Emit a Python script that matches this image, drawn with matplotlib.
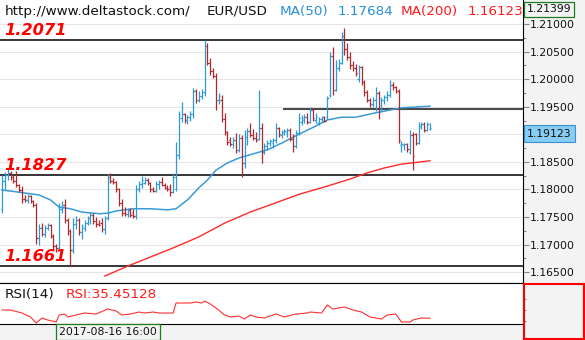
import numpy as np
import matplotlib
matplotlib.use('Agg')
import matplotlib.pyplot as plt
from matplotlib.collections import LineCollection
from matplotlib.patches import Rectangle
from matplotlib.ticker import MultipleLocator, FuncFormatter, NullFormatter


### Data: EUR/USD 4H bars

opens = [
    1.1765, 1.1815, 1.1826, 1.1830, 1.1822, 1.1816, 1.1808, 1.1799, 1.1783, 1.1781,
    1.1788, 1.1779, 1.1772, 1.1712, 1.1730, 1.1720, 1.1731, 1.1735, 1.1716, 1.1698,
    1.1693, 1.1765, 1.1772, 1.1745, 1.1724, 1.1690, 1.1738, 1.1745, 1.1722, 1.1730,
    1.1740, 1.1748, 1.1754, 1.1743, 1.1738, 1.1740, 1.1728, 1.1748, 1.1822, 1.1816,
    1.1813, 1.1800, 1.1776, 1.1758, 1.1755, 1.1762, 1.1758, 1.1752, 1.1800, 1.1810,
    1.1812, 1.1818, 1.1811, 1.1800, 1.1797, 1.1810, 1.1814, 1.1808, 1.1803, 1.1805,
    1.1795, 1.1800, 1.1862, 1.1930, 1.1936, 1.1926, 1.1932, 1.1936, 1.1978, 1.1962,
    1.1970, 1.1976, 1.2060, 1.2030, 1.2015, 1.2006, 1.1962, 1.1962, 1.1928, 1.1904,
    1.1890, 1.1882, 1.1890, 1.1872, 1.1893, 1.1848, 1.1896, 1.1906, 1.1898, 1.1894,
    1.1892, 1.1912, 1.1868, 1.1878, 1.1885, 1.1884, 1.1890, 1.1912, 1.1898, 1.1904,
    1.1902, 1.1908, 1.1892, 1.1878, 1.1902, 1.1922, 1.1926, 1.1932, 1.1922, 1.1944,
    1.1926, 1.1920, 1.1928, 1.1931, 1.1932, 1.1971, 1.2042, 1.1980, 1.2020, 1.2030,
    1.2078, 1.2055, 1.2040, 1.2025, 1.2020, 1.2000, 1.2022, 1.1995, 1.1976, 1.1962,
    1.1955, 1.1962, 1.1975, 1.1945, 1.1962, 1.1968, 1.1972, 1.1990, 1.1985, 1.1978,
    1.1880, 1.1880, 1.1882, 1.1868, 1.1898, 1.1900, 1.1885, 1.1915, 1.1918, 1.1908,
    1.1910,
]
highs = [
    1.1826, 1.1832, 1.1838, 1.1833, 1.1827, 1.1833, 1.1810, 1.1806, 1.1790, 1.1792,
    1.1790, 1.1781, 1.1776, 1.1738, 1.1740, 1.1736, 1.1739, 1.1737, 1.1720, 1.1701,
    1.1776, 1.1779, 1.1782, 1.1748, 1.1728, 1.1748, 1.1752, 1.1748, 1.1738, 1.1745,
    1.1752, 1.1760, 1.1758, 1.1750, 1.1745, 1.1748, 1.1752, 1.1828, 1.1830, 1.1820,
    1.1815, 1.1802, 1.1782, 1.1768, 1.1766, 1.1766, 1.1764, 1.1808, 1.1815, 1.1825,
    1.1822, 1.1820, 1.1814, 1.1804, 1.1815, 1.1818, 1.1822, 1.1812, 1.1808, 1.1810,
    1.1830, 1.1886, 1.1942, 1.1959, 1.1938, 1.1935, 1.1942, 1.1984, 1.1982, 1.1978,
    1.1982, 1.2071, 1.2066, 1.2038, 1.2020, 1.2011, 1.1975, 1.1971, 1.1939, 1.1906,
    1.1896, 1.1895, 1.1902, 1.1900, 1.1898, 1.1908, 1.1912, 1.1920, 1.1910, 1.1905,
    1.1980, 1.1921, 1.1884, 1.1890, 1.1892, 1.1893, 1.1921, 1.1914, 1.1908, 1.1910,
    1.1912, 1.1911, 1.1900, 1.1908, 1.1939, 1.1935, 1.1936, 1.1938, 1.1950, 1.1948,
    1.1938, 1.1932, 1.1934, 1.1934, 1.1970, 1.2050, 1.2058, 1.2035, 1.2036, 1.2085,
    1.2092, 1.2065, 1.2050, 1.2033, 1.2028, 1.2026, 1.2024, 1.1998, 1.1980, 1.1965,
    1.1968, 1.1985, 1.1978, 1.1968, 1.1972, 1.1978, 1.1998, 1.1995, 1.1988, 1.1982,
    1.1888, 1.1885, 1.1884, 1.1908, 1.1904, 1.1903, 1.1922, 1.1922, 1.1922, 1.1922,
    1.1920,
]
lows = [
    1.1757, 1.1800, 1.1818, 1.1818, 1.1812, 1.1804, 1.1795, 1.1775, 1.1777, 1.1775,
    1.1776, 1.1768, 1.1702, 1.1700, 1.1716, 1.1714, 1.1726, 1.1712, 1.1690, 1.1686,
    1.1690, 1.1758, 1.1740, 1.1718, 1.1661, 1.1685, 1.1728, 1.1718, 1.1710, 1.1725,
    1.1735, 1.1738, 1.1738, 1.1732, 1.1734, 1.1722, 1.1720, 1.1745, 1.1812, 1.1810,
    1.1795, 1.1770, 1.1752, 1.1752, 1.1750, 1.1750, 1.1748, 1.1746, 1.1795, 1.1802,
    1.1810, 1.1808, 1.1795, 1.1795, 1.1795, 1.1800, 1.1806, 1.1800, 1.1798, 1.1788,
    1.1793, 1.1798, 1.1856, 1.1922, 1.1920, 1.1918, 1.1925, 1.1930, 1.1956, 1.1958,
    1.1964, 1.1970, 1.2025, 1.2008, 1.2002, 1.1944, 1.1955, 1.1922, 1.1899, 1.1881,
    1.1878, 1.1876, 1.1866, 1.1868, 1.1823, 1.1839, 1.1880, 1.1895, 1.1890, 1.1886,
    1.1889, 1.1848, 1.1864, 1.1872, 1.1878, 1.1876, 1.1884, 1.1896, 1.1893, 1.1898,
    1.1896, 1.1888, 1.1868, 1.1875, 1.1899, 1.1916, 1.1920, 1.1918, 1.1920, 1.1925,
    1.1920, 1.1917, 1.1922, 1.1922, 1.1928, 1.1968, 1.1972, 1.1978, 1.2015, 1.2028,
    1.2044, 1.2035, 1.2018, 1.2015, 1.2005, 1.1995, 1.1990, 1.1970, 1.1958, 1.1950,
    1.1950, 1.1942, 1.1928, 1.1940, 1.1955, 1.1960, 1.1968, 1.1980, 1.1975, 1.1884,
    1.1868, 1.1872, 1.1868, 1.1865, 1.1836, 1.1880, 1.1882, 1.1910, 1.1905, 1.1906,
    1.1908,
]
closes = [
    1.1815, 1.1826, 1.1830, 1.1822, 1.1816, 1.1808, 1.1799, 1.1783, 1.1781, 1.1788,
    1.1779, 1.1772, 1.1712, 1.1730, 1.1720, 1.1731, 1.1735, 1.1716, 1.1698, 1.1693,
    1.1765, 1.1772, 1.1745, 1.1724, 1.1690, 1.1738, 1.1745, 1.1722, 1.1733, 1.1740,
    1.1748, 1.1754, 1.1743, 1.1738, 1.1736, 1.1728, 1.1748, 1.1822, 1.1816, 1.1813,
    1.1800, 1.1776, 1.1758, 1.1755, 1.1762, 1.1754, 1.1752, 1.1800, 1.1810, 1.1818,
    1.1818, 1.1811, 1.1800, 1.1797, 1.1810, 1.1814, 1.1808, 1.1803, 1.1801, 1.1795,
    1.1822, 1.1862, 1.1936, 1.1936, 1.1926, 1.1932, 1.1936, 1.1978, 1.1962, 1.1970,
    1.1976, 1.2060, 1.2030, 1.2015, 1.2006, 1.1962, 1.1970, 1.1928, 1.1904, 1.1886,
    1.1882, 1.1890, 1.1872, 1.1893, 1.1848, 1.1896, 1.1906, 1.1898, 1.1894, 1.1890,
    1.1912, 1.1868, 1.1878, 1.1885, 1.1888, 1.1890, 1.1912, 1.1900, 1.1904, 1.1906,
    1.1908, 1.1892, 1.1878, 1.1902, 1.1930, 1.1930, 1.1932, 1.1922, 1.1944, 1.1930,
    1.1932, 1.1928, 1.1931, 1.1925, 1.1965, 1.2042, 1.1980, 1.2020, 1.2030, 1.2078,
    1.2055, 1.2040, 1.2025, 1.2020, 1.2012, 1.2022, 1.1995, 1.1976, 1.1962, 1.1955,
    1.1962, 1.1975, 1.1945, 1.1962, 1.1968, 1.1972, 1.1990, 1.1985, 1.1978, 1.1890,
    1.1882, 1.1882, 1.1874, 1.1898, 1.1860, 1.1885, 1.1915, 1.1918, 1.1908, 1.1918,
    1.19123,
]

# moving averages (bar index -> value)
ma50_idx = [0, 6, 13, 17, 20, 24, 28, 34, 37, 40, 46, 52, 58, 61, 65, 69,
            72, 75, 79, 83, 87, 93, 98, 104, 110, 114, 119, 124, 131, 136, 140, 150]
ma50_val = [1.1799, 1.1795, 1.1790, 1.1781, 1.1768, 1.1765, 1.1759, 1.1756,
            1.1757, 1.1761, 1.1765, 1.1765, 1.1763, 1.1765, 1.1781, 1.1803,
            1.1817, 1.1835, 1.1848, 1.1857, 1.1863, 1.1872, 1.1884, 1.1900,
            1.1915, 1.1926, 1.1931, 1.1931, 1.1939, 1.1944, 1.1948, 1.1951]
ma200_idx = [36, 45, 60, 69, 78, 87, 95, 104, 114, 122, 128, 134, 140, 145, 150]
ma200_val = [1.1643, 1.1663, 1.1694, 1.1714, 1.1739, 1.1759, 1.1774, 1.1791,
             1.1806, 1.1819, 1.1830, 1.1839, 1.1846, 1.1849, 1.1852]

# RSI(14)
rsi_idx = [0, 3, 7, 10, 12, 14, 16, 19, 20, 22, 23, 26, 29, 33, 37, 40, 42, 45,
           48, 50, 53, 55, 60, 61, 63, 66, 68, 70, 71, 73, 75, 78, 80, 83, 85,
           87, 89, 92, 96, 99, 103, 107, 108, 112, 114, 116, 120, 123, 126, 129,
           131, 133, 135, 138, 140, 143, 144, 147, 150]
rsi_val = [50.6, 50.6, 45.1, 37.8, 26.8, 36.0, 32.3, 28.7, 41.5, 43.3, 37.8,
           41.5, 45.1, 43.3, 52.4, 48.8, 41.5, 43.3, 46.9, 45.1, 46.9, 45.1,
           45.1, 63.4, 63.4, 63.4, 65.2, 63.4, 67.1, 61.6, 54.3, 41.5, 37.8,
           39.6, 34.1, 41.5, 37.8, 36.0, 43.3, 37.8, 43.3, 45.1, 46.9, 45.1,
           59.8, 52.4, 56.1, 50.6, 46.9, 37.8, 36.0, 34.1, 41.5, 43.3, 28.7,
           28.7, 32.3, 36.0, 35.45128]

# support / resistance levels
levels = [1.2071, 1.1827, 1.1661]
level_labels = ['1.2071', '1.1827', '1.1661']
trend_level = 1.1945
trend_start = 98.5

price_top = 1.21399
cursor_time = '2017-08-16 16:00'
ma50_cursor = '1.17684'
ma200_cursor = '1.16123'


### Style

W, H = 585, 340
up_color = '#2b9ad7'
down_color = '#b0282b'
panel_bg = '#f3f3f3'
font = 'DejaVu Sans'


def fx(x):
    return x / W


def fy(y):
    return 1 - y / H


def price_label(v, pos):
    # the last-price box sits on top of the nearest scale label
    if abs(v - closes[-1]) < 0.0025:
        return ''
    return f'{v:.5f}'


fig = plt.figure(figsize=(W / 100, H / 100), dpi=100, facecolor=panel_bg)
ax = fig.add_axes([0, fy(283), fx(523), 283 / H])
ax_rsi = fig.add_axes([0, fy(324), fx(523), 41 / H])

# price panel
n = len(closes)
idx = np.arange(n)
o, h, l, c = map(np.asarray, (opens, highs, lows, closes))
colors = np.where(c >= o, up_color, down_color)

segs, segc = [], []
for i in idx:
    segs += [[(i, l[i]), (i, h[i])], [(i - 0.5, o[i]), (i, o[i])], [(i, c[i]), (i + 0.5, c[i])]]
    segc += [colors[i]] * 3
ax.add_collection(LineCollection(segs, colors=segc, linewidths=0.9, zorder=4))

ax.plot(ma50_idx, ma50_val, color='#3a9bd9', lw=1.1, zorder=3)
ax.plot(ma200_idx, ma200_val, color='#ff2a2a', lw=1.0, zorder=3)

for lv, lbl in zip(levels, level_labels):
    ax.axhline(lv, color='black', lw=1.1, zorder=2)
    ax.annotate(lbl, xy=(0, lv), xycoords=('axes fraction', 'data'),
                xytext=(4, 5), textcoords='offset pixels', va='baseline', ha='left',
                color='#ff0000', fontsize=11.7, fontweight='bold', fontstyle='italic',
                family=font, zorder=6)
ax.hlines(trend_level, trend_start, 182.6, color='#4a4a4a', lw=1.5, zorder=2)

ax.set_xlim(-0.7, 182.6)
ax.set_ylim(1.16304, 1.21435)
ax.yaxis.set_major_locator(MultipleLocator(0.005))
ax.yaxis.set_minor_locator(MultipleLocator(0.0025))
ax.yaxis.set_major_formatter(FuncFormatter(price_label))
ax.yaxis.tick_right()
ax.tick_params(axis='y', which='major', length=4, width=0.8, color='#888888',
               labelsize=7.8, pad=1.0, labelcolor='#111111')
ax.tick_params(axis='y', which='minor', length=2.2, width=0.8, color='#888888')
ax.set_xticks([])
ax.grid(axis='y', which='major', color='#e6e6e6', lw=0.8, zorder=0)
for side in ['top', 'left']:
    ax.spines[side].set_visible(False)
ax.spines['right'].set_color('black')
ax.spines['bottom'].set_color('black')
ax.set_facecolor('white')

# last price marker
ax.annotate(f'{closes[-1]:.5f}', xy=(1, closes[-1]), xycoords=('axes fraction', 'data'),
            xytext=(4, -6), textcoords='offset pixels', va='center', ha='left',
            fontsize=7.8, color='#111111', family=font, annotation_clip=False, zorder=10,
            bbox=dict(boxstyle='square,pad=0.3', fc='#87cdf5', ec='#3a8fd0', lw=0.8))

# RSI panel
ax_rsi.plot(rsi_idx, rsi_val, color='#ff3030', lw=0.8)
ax_rsi.set_xlim(-0.7, 182.6)
ax_rsi.set_ylim(25, 100)
ax_rsi.set_xticks([])
ax_rsi.yaxis.tick_right()
ax_rsi.set_yticks([30, 50, 70])
ax_rsi.yaxis.set_major_formatter(NullFormatter())
ax_rsi.tick_params(axis='y', length=2.5, width=0.8, color='#888888')
ax_rsi.spines['left'].set_visible(False)
for side in ['top', 'right', 'bottom']:
    ax_rsi.spines[side].set_color('black')
ax_rsi.set_facecolor('white')

# header texts
fig.text(fx(5), fy(15), 'http://www.deltastock.com/', fontsize=9.7, family=font, color='#111111')
fig.text(fx(207), fy(15), 'EUR/USD', fontsize=9.7, family=font, color='#111111')
fig.text(fx(280), fy(15), 'MA(50)', fontsize=9.7, family=font, color='#2b8fd4')
fig.text(fx(338), fy(15), ma50_cursor, fontsize=9.7, family=font, color='#2b8fd4')
fig.text(fx(401), fy(15), 'MA(200)', fontsize=9.7, family=font, color='#ff1a1a')
fig.text(fx(468), fy(15), ma200_cursor, fontsize=9.7, family=font, color='#ff1a1a')
fig.text(fx(5), fy(298), 'RSI(14)', fontsize=9.7, family=font, color='#111111')
fig.text(fx(66), fy(298), f'RSI:{rsi_val[-1]:.5f}', fontsize=9.7, family=font, color='#ff1a1a')

# top price box and cursor time box
fig.text(fx(527), fy(9.5), f'{price_top:.5f}', fontsize=7.8, family=font, va='center',
         color='#111111', bbox=dict(boxstyle='square,pad=0.25', fc=panel_bg, ec='#1e7b1e', lw=0.9))
fig.text(fx(59), fy(332), cursor_time, fontsize=7.8, family=font, va='center',
         color='#111111', bbox=dict(boxstyle='square,pad=0.3', fc=panel_bg, ec='#1e7b1e', lw=0.9))

# frame around the RSI scale
fig.patches.append(Rectangle((fx(524), fy(339)), 60 / W, 55 / H, transform=fig.transFigure,
                             fill=False, ec='#ff0000', lw=1.5))

fig.savefig('out.png', dpi=100, facecolor=panel_bg)
